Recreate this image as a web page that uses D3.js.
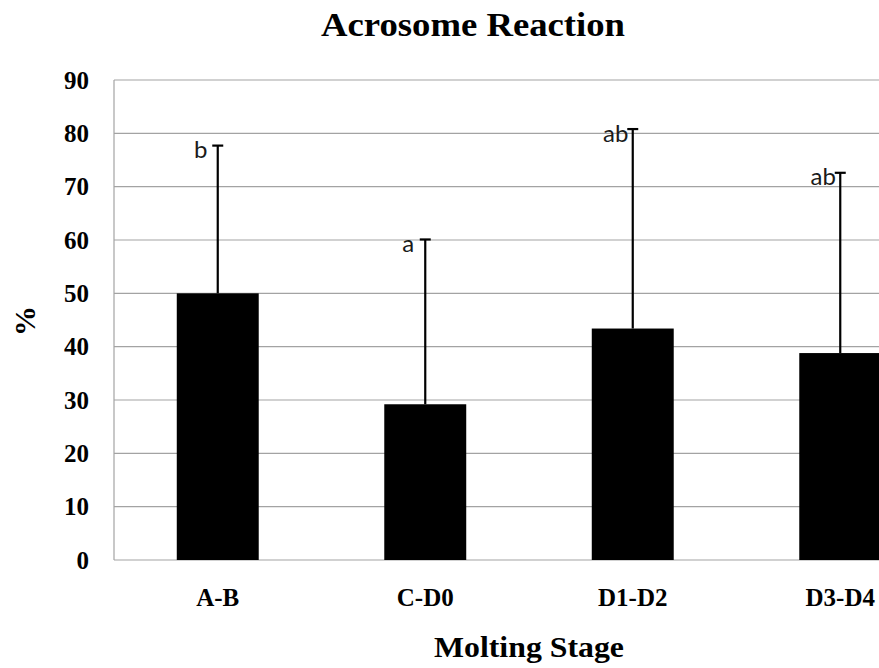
<!DOCTYPE html>
<html>
<head>
<meta charset="utf-8">
<script src="https://cdn.jsdelivr.net/npm/d3@7/dist/d3.min.js"></script>
<style>
  html, body { margin: 0; padding: 0; background: #fff; }
  svg { display: block; }
  .serif { font-family: "Liberation Serif", "Times New Roman", serif; font-weight: bold; fill: #000; }
  .sig { font-family: Lato, "Open Sans", sans-serif; fill: #1a1a1a; }
</style>
</head>
<body>
<svg id="chart" width="879" height="668"></svg>
<script>
// Acrosome reaction (%) by molting stage, mean with upper SD bar
const stages = ["A-B", "C-D0", "D1-D2", "D3-D4"];
const means = [50.0, 29.2, 43.4, 38.8];
const upper = [77.7, 60.1, 80.8, 72.6];
const letters = ["b", "a", "ab", "ab"];
const yTicks = [0, 10, 20, 30, 40, 50, 60, 70, 80, 90];

const W = 879, H = 668;
const plot = { left: 114, right: 944, top: 80, bottom: 560 };

const svg = d3.select("#chart");

const x = d3.scaleBand()
  .domain(stages)
  .range([plot.left, plot.right])
  .paddingInner(0.605)
  .paddingOuter(0.3025);

const y = d3.scaleLinear().domain([0, 90]).range([plot.bottom, plot.top]);

const grey = "#a3a3a3";

// horizontal gridlines
svg.append("g")
  .selectAll("line")
  .data(yTicks)
  .join("line")
  .attr("x1", plot.left).attr("x2", plot.right)
  .attr("y1", d => y(d)).attr("y2", d => y(d))
  .attr("stroke", grey).attr("stroke-width", 1.2);

// left frame
svg.append("line")
  .attr("x1", plot.left).attr("x2", plot.left)
  .attr("y1", y(90)).attr("y2", y(0))
  .attr("stroke", grey).attr("stroke-width", 1.2);

// y tick labels
svg.append("g")
  .selectAll("text")
  .data(yTicks)
  .join("text")
  .attr("class", "serif")
  .attr("x", 89)
  .attr("y", d => y(d) + 8.5)
  .attr("text-anchor", "end")
  .attr("font-size", 25)
  .text(d => d);

// bars
svg.append("g")
  .selectAll("rect")
  .data(stages)
  .join("rect")
  .attr("x", d => x(d))
  .attr("width", x.bandwidth())
  .attr("y", (d, i) => y(means[i]))
  .attr("height", (d, i) => y(0) - y(means[i]))
  .attr("fill", "#000");

// upper error bars
const eb = svg.append("g").attr("stroke", "#000").attr("stroke-width", 2.2);
stages.forEach((s, i) => {
  const cx = x(s) + x.bandwidth() / 2;
  eb.append("line")
    .attr("x1", cx).attr("x2", cx)
    .attr("y1", y(means[i])).attr("y2", y(upper[i]));
  eb.append("line")
    .attr("x1", cx - 5.5).attr("x2", cx + 5.5)
    .attr("y1", y(upper[i])).attr("y2", y(upper[i]));
});

// significance letters
svg.append("g")
  .selectAll("text")
  .data(stages)
  .join("text")
  .attr("class", "sig")
  .attr("x", d => x(d) + x.bandwidth() / 2 - 17)
  .attr("y", (d, i) => y(upper[i]) + 12.5)
  .attr("text-anchor", "middle")
  .attr("font-size", 24)
  .text((d, i) => letters[i]);

// category labels
svg.append("g")
  .selectAll("text")
  .data(stages)
  .join("text")
  .attr("class", "serif")
  .attr("x", d => x(d) + x.bandwidth() / 2)
  .attr("y", 606)
  .attr("text-anchor", "middle")
  .attr("font-size", 25)
  .text(d => d);

// title
svg.append("text")
  .attr("class", "serif")
  .attr("x", 473).attr("y", 36)
  .attr("text-anchor", "middle")
  .attr("font-size", 33)
  .attr("textLength", 304)
  .attr("lengthAdjust", "spacingAndGlyphs")
  .text("Acrosome Reaction");

// axis titles
svg.append("text")
  .attr("class", "serif")
  .attr("x", (plot.left + plot.right) / 2).attr("y", 657)
  .attr("text-anchor", "middle")
  .attr("font-size", 29)
  .attr("textLength", 190)
  .attr("lengthAdjust", "spacingAndGlyphs")
  .text("Molting Stage");

svg.append("text")
  .attr("class", "serif")
  .attr("transform", "translate(35,321) rotate(-90)")
  .attr("text-anchor", "middle")
  .attr("font-size", 30)
  .text("%");
</script>
</body>
</html>
